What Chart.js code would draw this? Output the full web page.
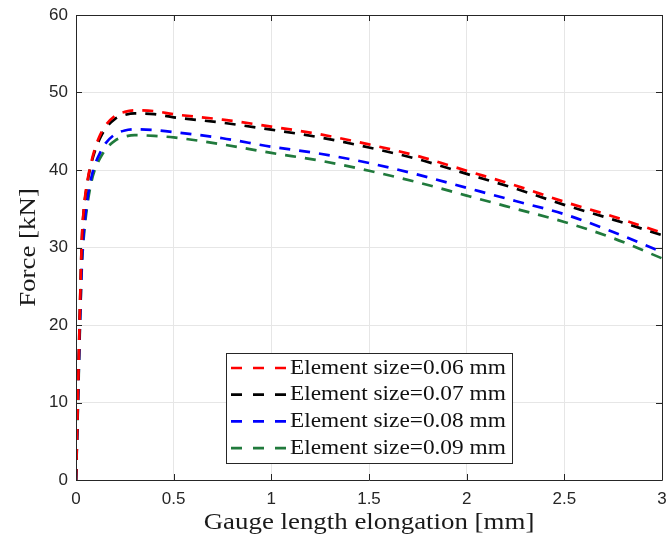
<!DOCTYPE html>
<html>
<head>
<meta charset="utf-8">
<script src="https://cdn.jsdelivr.net/npm/chart.js@4/dist/chart.umd.min.js"></script>
<style>
  html, body { margin: 0; padding: 0; background: #ffffff; }
  #wrap { width: 666px; height: 539px; }
</style>
</head>
<body>
<div id="wrap"><canvas id="c" width="666" height="539"></canvas></div>
<script>
// Gauge length elongation samples [mm]
const elongation = [0, 0.01, 0.02, 0.03, 0.04, 0.06, 0.08, 0.1, 0.125, 0.15, 0.2, 0.25, 0.3, 0.4, 0.5, 0.75, 1, 1.25, 1.5, 1.75, 2, 2.25, 2.5, 2.75, 3];

// Force [kN] for each mesh element size
const force006 = [0, 11, 22, 31, 35, 38.8, 41.2, 43.0, 44.6, 45.7, 47.0, 47.5, 47.7, 47.6, 47.2, 46.5, 45.6, 44.6, 43.3, 41.8, 39.9, 38.0, 35.9, 34.0, 31.9];
const force007 = [0, 11, 22, 31, 34.8, 38.6, 41.0, 42.7, 44.2, 45.3, 46.6, 47.1, 47.3, 47.2, 46.8, 46.1, 45.2, 44.2, 42.9, 41.4, 39.5, 37.6, 35.5, 33.6, 31.6];
const force008 = [0, 10, 20, 28, 32, 36.5, 39.2, 40.9, 42.3, 43.4, 44.6, 45.1, 45.25, 45.15, 44.9, 44.1, 43.0, 42.1, 40.9, 39.4, 37.7, 36.0, 34.3, 32.0, 29.4];
const force009 = [0, 9.5, 19.5, 27.5, 31.4, 35.8, 38.6, 40.3, 41.6, 42.6, 43.8, 44.3, 44.5, 44.4, 44.2, 43.3, 42.2, 41.2, 39.9, 38.4, 36.7, 35.0, 33.3, 31.2, 28.6];

const seriesLabels = ['Element size=0.06 mm', 'Element size=0.07 mm', 'Element size=0.08 mm', 'Element size=0.09 mm'];
const seriesColors = ['#ff0000', '#000000', '#0000ff', '#207a3c'];

const xTickLabels = ['0', '0.5', '1', '1.5', '2', '2.5', '3'];
const yTickLabels = ['0', '10', '20', '30', '40', '50', '60'];

const xTitle = 'Gauge length elongation [mm]';
const yTitle = 'Force [kN]';

const DASH = [11, 9];
const AXIS_COLOR = '#262626';
const SERIF = '"Liberation Serif", "DejaVu Serif", serif';
const SANS = '"Liberation Sans", Arial, sans-serif';

function toPoints(ys) {
  return elongation.map((x, i) => ({ x: x, y: ys[i] }));
}

const allForces = [force006, force007, force008, force009];

const datasets = allForces.map((ys, i) => ({
  label: seriesLabels[i],
  data: toPoints(ys),
  showLine: true,
  borderColor: seriesColors[i],
  backgroundColor: seriesColors[i],
  borderWidth: 2.7,
  borderDash: DASH,
  pointRadius: 0,
  cubicInterpolationMode: 'monotone',
  fill: false
}));

// Draws text stretched horizontally
function drawStretched(ctx, text, x, y, fontPx, stretch, align) {
  ctx.save();
  ctx.font = fontPx + 'px ' + SERIF;
  ctx.translate(x, y);
  ctx.scale(stretch, 1);
  ctx.textAlign = align;
  ctx.textBaseline = 'middle';
  ctx.fillText(text, 0, 0);
  ctx.restore();
}

// Axes box, inward ticks, axis titles and the legend panel
const framePlugin = {
  id: 'frame',
  afterDraw(chart) {
    const ctx = chart.ctx;
    const a = chart.chartArea;
    const xs = chart.scales.x;
    const ys = chart.scales.y;
    const tick = 6;

    ctx.save();
    ctx.strokeStyle = AXIS_COLOR;
    ctx.lineWidth = 1;
    ctx.beginPath();
    ctx.rect(Math.round(a.left) + 0.5, Math.round(a.top) + 0.5,
             Math.round(a.right - a.left), Math.round(a.bottom - a.top));
    ctx.stroke();

    ctx.beginPath();
    xs.ticks.forEach(t => {
      const px = Math.round(xs.getPixelForValue(t.value)) + 0.5;
      ctx.moveTo(px, a.bottom); ctx.lineTo(px, a.bottom - tick);
      ctx.moveTo(px, a.top); ctx.lineTo(px, a.top + tick);
    });
    ys.ticks.forEach(t => {
      const py = Math.round(ys.getPixelForValue(t.value)) + 0.5;
      ctx.moveTo(a.left, py); ctx.lineTo(a.left + tick, py);
      ctx.moveTo(a.right, py); ctx.lineTo(a.right - tick, py);
    });
    ctx.stroke();

    // axis titles
    ctx.fillStyle = '#1a1a1a';
    drawStretched(ctx, xTitle, (a.left + a.right) / 2, 523, 24, 1.12, 'center');
    ctx.save();
    ctx.translate(29, (a.top + a.bottom) / 2);
    ctx.rotate(-Math.PI / 2);
    drawStretched(ctx, yTitle, 0, 0, 24, 1.12, 'center');
    ctx.restore();

    // legend panel
    const lx = 226.5, ly = 353.5, lw = 286, lh = 110;
    ctx.fillStyle = '#ffffff';
    ctx.fillRect(lx, ly, lw, lh);
    ctx.strokeStyle = AXIS_COLOR;
    ctx.lineWidth = 1;
    ctx.strokeRect(lx, ly, lw, lh);

    chart.data.datasets.forEach((ds, i) => {
      const cy = ly + 14.5 + i * 26.7;
      ctx.save();
      ctx.strokeStyle = ds.borderColor;
      ctx.lineWidth = 2.7;
      ctx.setLineDash([11, 11]);
      ctx.beginPath();
      ctx.moveTo(231, cy);
      ctx.lineTo(286, cy);
      ctx.stroke();
      ctx.restore();
      ctx.fillStyle = '#111111';
      drawStretched(ctx, ds.label, 290, cy, 21, 1.11, 'left');
    });
    ctx.restore();
  }
};

new Chart(document.getElementById('c'), {
  type: 'scatter',
  data: { datasets: datasets },
  options: {
    responsive: false,
    animation: false,
    devicePixelRatio: 1,
    layout: { padding: { top: 15, right: 4, left: 0, bottom: 0 } },
    plugins: {
      legend: { display: false },
      tooltip: { enabled: false }
    },
    scales: {
      x: {
        type: 'linear',
        min: 0,
        max: 3,
        border: { display: false },
        grid: { color: '#e6e6e6', lineWidth: 1, drawTicks: false },
        ticks: {
          stepSize: 0.5,
          padding: 9,
          color: AXIS_COLOR,
          font: { family: SANS, size: 17 },
          maxRotation: 0,
          callback: (v, i) => xTickLabels[i]
        },
        afterFit(scale) {
          scale.height = 59;
          scale.paddingLeft = 0;
          scale.paddingRight = 0;
        }
      },
      y: {
        type: 'linear',
        min: 0,
        max: 60,
        border: { display: false },
        grid: { color: '#e6e6e6', lineWidth: 1, drawTicks: false },
        ticks: {
          stepSize: 10,
          padding: 8,
          color: AXIS_COLOR,
          font: { family: SANS, size: 17 },
          callback: (v, i) => yTickLabels[i]
        },
        afterFit(scale) {
          scale.width = 76;
          scale.paddingTop = 0;
          scale.paddingBottom = 0;
        }
      }
    }
  },
  plugins: [framePlugin]
});
</script>
</body>
</html>
